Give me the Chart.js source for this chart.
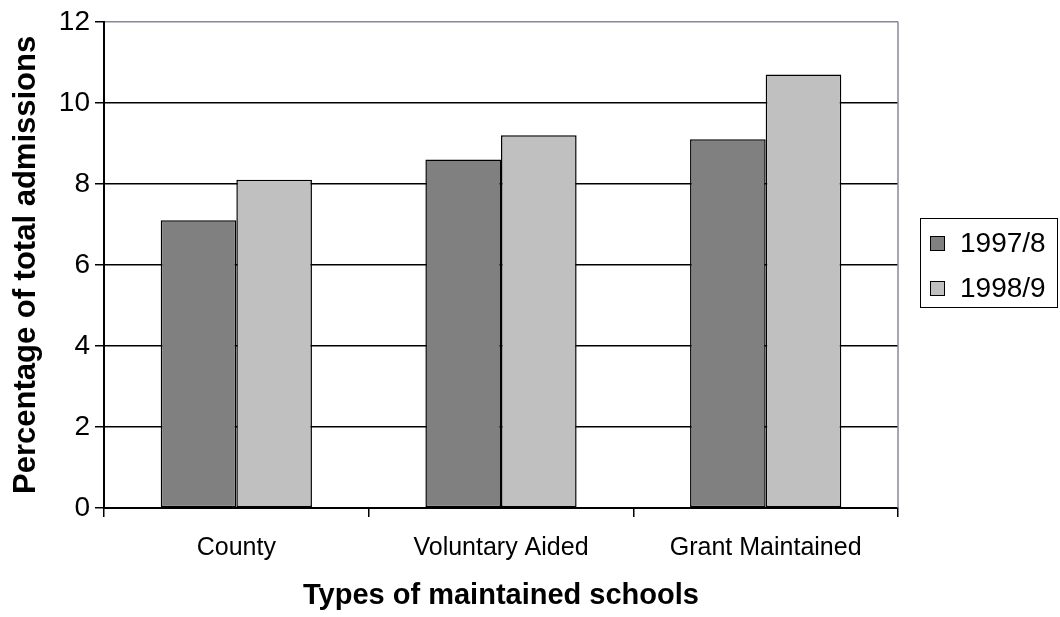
<!DOCTYPE html>
<html>
<head>
<meta charset="utf-8">
<title>Admissions by type of maintained school</title>
<script src="https://cdn.jsdelivr.net/npm/chart.js@4/dist/chart.umd.min.js"></script>
<style>
  html, body { margin: 0; padding: 0; background: #ffffff; }
  #wrap { width: 1060px; height: 617px; position: relative; }
  canvas { display: block; }
</style>
</head>
<body>
<div id="wrap"><canvas id="chart" width="1060" height="617"></canvas></div>
<script>
// Chart data
const categories = ['County', 'Voluntary Aided', 'Grant Maintained'];
const seriesNames = ['1997/8', '1998/9'];
const values1997 = [7.1, 8.6, 9.1];
const values1998 = [8.1, 9.2, 10.7];
const yTickValues = [0, 2, 4, 6, 8, 10, 12];

const FONT = 'Arial, "Liberation Sans", sans-serif';
const FRAME_GREY = '#88889c';

// Grey frame on the right edge of the plot and a boxed key on the right
const frameAndKey = {
  id: 'frameAndKey',
  afterDraw(chart) {
    const ctx = chart.ctx;
    const area = chart.chartArea;
    ctx.save();
    ctx.strokeStyle = FRAME_GREY;
    ctx.lineWidth = 1.5;
    ctx.beginPath();
    ctx.moveTo(area.right, area.top);
    ctx.lineTo(area.right, area.bottom);
    ctx.stroke();

    const box = { x: 920, y: 218, w: 138, h: 90 };
    ctx.strokeStyle = '#000';
    ctx.lineWidth = 1;
    ctx.strokeRect(box.x + 0.5, box.y + 0.5, box.w - 1, box.h - 1);
    ctx.font = '28px ' + FONT;
    ctx.textBaseline = 'middle';
    ctx.textAlign = 'left';
    chart.data.datasets.forEach((ds, i) => {
      const cy = box.y + 26 + i * 45;
      ctx.fillStyle = ds.backgroundColor;
      ctx.fillRect(930, cy - 8, 15, 15);
      ctx.strokeStyle = '#000';
      ctx.strokeRect(930.5, cy - 7.5, 14, 14);
      ctx.fillStyle = '#000';
      ctx.fillText(ds.label, 960, cy);
    });
    ctx.restore();
  }
};

new Chart(document.getElementById('chart'), {
  type: 'bar',
  data: {
    labels: categories,
    datasets: [
      {
        label: seriesNames[0],
        data: values1997,
        backgroundColor: '#808080',
        borderColor: '#000',
        borderWidth: 1.5,
        borderSkipped: false,
        categoryPercentage: 2 / 3.5,
        barPercentage: 1
      },
      {
        label: seriesNames[1],
        data: values1998,
        backgroundColor: '#c0c0c0',
        borderColor: '#000',
        borderWidth: 1.5,
        borderSkipped: false,
        categoryPercentage: 2 / 3.5,
        barPercentage: 1
      }
    ]
  },
  options: {
    responsive: false,
    animation: false,
    devicePixelRatio: 1,
    layout: { padding: { top: 20, right: 162, bottom: 0, left: 0 } },
    plugins: {
      legend: { display: false },
      tooltip: { enabled: false }
    },
    scales: {
      x: {
        type: 'category',
        grid: {
          offset: true,
          drawOnChartArea: false,
          drawTicks: true,
          tickLength: 9,
          tickColor: '#000',
          lineWidth: 1.5
        },
        border: { display: true, color: '#000', width: 2 },
        ticks: {
          color: '#000',
          font: { family: FONT, size: 25 },
          padding: 16,
          maxRotation: 0,
          autoSkip: false
        },
        title: {
          display: true,
          text: 'Types of maintained schools',
          color: '#000',
          font: { family: FONT, size: 29, weight: 'bold' },
          padding: { top: 0, bottom: 4 }
        },
        afterFit(scale) { scale.height = 109; }
      },
      y: {
        min: 0,
        max: 12,
        grid: {
          color: (c) => (c.tick && c.tick.value === 12 ? FRAME_GREY : '#000'),
          tickColor: '#000',
          lineWidth: 1.5,
          tickLength: 9,
          drawTicks: true
        },
        border: { display: true, color: '#000', width: 2 },
        ticks: {
          color: '#000',
          font: { family: FONT, size: 28 },
          padding: 5
        },
        afterBuildTicks(scale) {
          scale.ticks = yTickValues.map((v) => ({ value: v }));
        },
        title: {
          display: true,
          text: 'Percentage of total admissions',
          color: '#000',
          font: { family: FONT, size: 31, weight: 'bold' },
          padding: { top: 8, bottom: 0 }
        },
        afterFit(scale) { scale.width = 104; }
      }
    }
  },
  plugins: [frameAndKey]
});
</script>
</body>
</html>
